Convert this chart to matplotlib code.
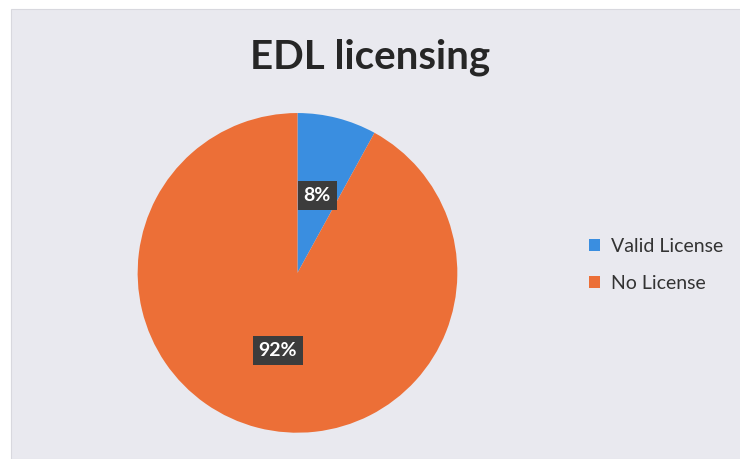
import matplotlib.pyplot as plt
from matplotlib.patches import Rectangle

title = "EDL licensing"
labels = ["Valid License", "No License"]
shares = [8, 92]
colors = ["#3a8ee0", "#ec6f37"]

fig = plt.figure(figsize=(7.4, 4.59), dpi=100)
fig.patch.set_facecolor("white")
# scanned slide area (white strip at top and left)
fig.patches.append(Rectangle((11 / 740, 0), 1, 1 - 9 / 459, transform=fig.transFigure,
                             facecolor="#e9e9ef", edgecolor="#d8d8de", lw=0.8, zorder=-5))

ax = fig.add_axes([0.186, 0.057, 0.432, 0.697])
ax.patch.set_visible(False)
wedges, texts, autotexts = ax.pie(
    shares, colors=colors, startangle=90, counterclock=False,
    autopct="%d%%", pctdistance=0.5,
    wedgeprops=dict(linewidth=0),
)
for t in autotexts:
    t.set_color("white")
    t.set_fontsize(14)
    t.set_fontweight("bold")
    t.set_family("Lato")
    t.set_bbox(dict(boxstyle="square,pad=0.3", facecolor="#3c3c3c", edgecolor="none"))
ax.set_xlim(-1, 1)
ax.set_ylim(-1, 1)
ax.set_aspect("equal")

fig.text(0.5, 0.875, title, ha="center", va="center", fontsize=29,
         fontweight="bold", family="Lato", color="#262626")

leg = fig.legend(wedges, labels, loc="center left", bbox_to_anchor=(0.772, 0.423),
                 frameon=False, handlelength=0.6, handleheight=0.6,
                 labelspacing=1.0, handletextpad=0.55, prop={"family": "Lato", "size": 14})
for t in leg.get_texts():
    t.set_color("#333333")

fig.savefig("out.png", dpi=100, facecolor=fig.get_facecolor())
